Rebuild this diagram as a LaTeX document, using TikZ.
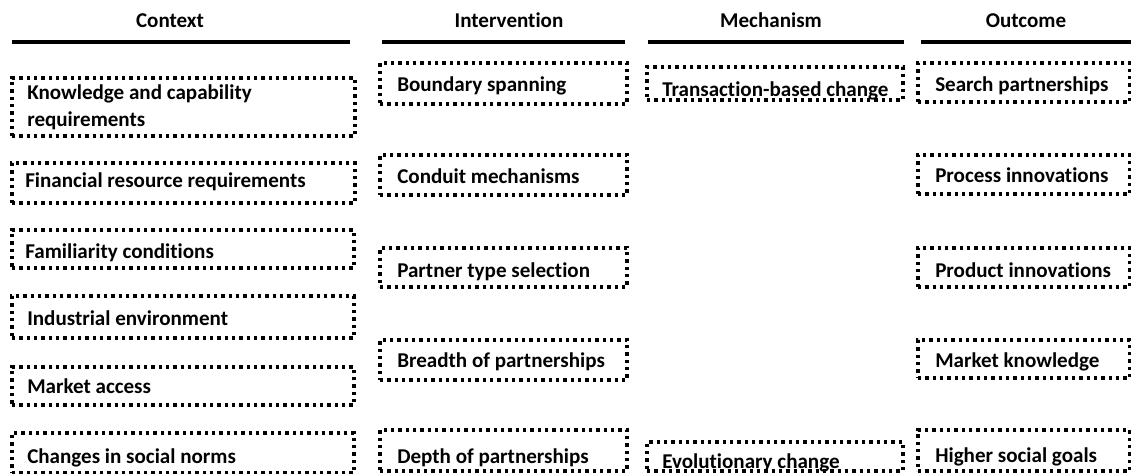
\documentclass[tikz,border=0pt]{standalone}
\usepackage{fontspec}
\setmainfont{Carlito}[Ligatures=NoCommon]
\usetikzlibrary{fit}
\begin{document}
\begin{tikzpicture}[x=0.75pt,y=-0.75pt,
  dotbox/.style={draw=black, line width=2.4pt, dash pattern=on 2.6pt off 2.9pt, inner sep=0pt},
  lbl/.style={font=\fontsize{15.8}{20.25}\selectfont\bfseries, inner sep=0pt, anchor=base west, align=left},
  head/.style={font=\fontsize{15.8}{19}\selectfont\bfseries, inner sep=0pt, anchor=base},
  rulebar/.style={line width=3.2pt}]
\useasboundingbox (0,0) rectangle (1131,474);

% column headings and their rules
\node[head] (hc) at (170,28) {Context};
\node[head] (hi) at (509,28) {Intervention};
\node[head] (hm) at (771,28) {Mechanism};
\node[head] (ho) at (1026,28) {Outcome};
\coordinate (rc1) at (12,42);  \coordinate (rc2) at (350,42);
\coordinate (ri1) at (382,42); \coordinate (ri2) at (625,42);
\coordinate (rm1) at (648,42); \coordinate (rm2) at (904,42);
\coordinate (ro1) at (921,42); \coordinate (ro2) at (1131,42);
\draw[rulebar] (rc1) -- (rc2);
\draw[rulebar] (ri1) -- (ri2);
\draw[rulebar] (rm1) -- (rm2);
\draw[rulebar] (ro1) -- (ro2);

% Context
\node[dotbox, fit={(12,78)(355,136)}] (c1) {};
\node[dotbox, fit={(12,163)(355,203)}] (c2) {};
\node[dotbox, fit={(12,230)(354,268)}] (c3) {};
\node[dotbox, fit={(12,296)(354,338)}] (c4) {};
\node[dotbox, fit={(12,367)(354,405)}] (c5) {};
\node[dotbox, fit={(12,433)(354,473)}] (c6) {};
\node[lbl] (c1t) at (27,127) {Knowledge and capability\\requirements};
\node[lbl] (c2t) at (25,187) {Financial resource requirements};
\node[lbl] (c3t) at (25,258) {Familiarity conditions};
\node[lbl] (c4t) at (27,325) {Industrial environment};
\node[lbl] (c5t) at (27,393) {Market access};
\node[lbl] (c6t) at (27,463) {Changes in social norms};

% Intervention
\node[dotbox, fit={(380,63)(627,104)}] (i1) {};
\node[dotbox, fit={(380,155)(627,195)}] (i2) {};
\node[dotbox, fit={(380,248)(627,287)}] (i3) {};
\node[dotbox, fit={(380,340)(627,380)}] (i4) {};
\node[dotbox, fit={(380,430)(627,471)}] (i5) {};
\node[lbl] (i1t) at (397,92) {Boundary spanning};
\node[lbl] (i2t) at (397,184) {Conduit mechanisms};
\node[lbl] (i3t) at (397,277) {Partner type selection};
\node[lbl] (i4t) at (397,367) {Breadth of partnerships};
\node[lbl] (i5t) at (397,463) {Depth of partnerships};

% Mechanism
\node[dotbox, fit={(647,67)(903,100)}] (m1) {};
\node[dotbox, fit={(647,442)(903,471)}] (m2) {};
\node[lbl] (m1t) at (662,97) {Transaction-based change};
\node[lbl] (m2t) at (662,468) {Evolutionary change};

% Outcome
\node[dotbox, fit={(918,63)(1130,102)}] (o1) {};
\node[dotbox, fit={(918,155)(1130,194)}] (o2) {};
\node[dotbox, fit={(918,248)(1130,287)}] (o3) {};
\node[dotbox, fit={(918,340)(1130,378)}] (o4) {};
\node[dotbox, fit={(918,430)(1130,471)}] (o5) {};
\node[lbl] (o1t) at (935,92) {Search partnerships};
\node[lbl] (o2t) at (935,183) {Process innovations};
\node[lbl] (o3t) at (935,277) {Product innovations};
\node[lbl] (o4t) at (935,367) {Market knowledge};
\node[lbl] (o5t) at (935,462) {Higher social goals};
\end{tikzpicture}
\end{document}
